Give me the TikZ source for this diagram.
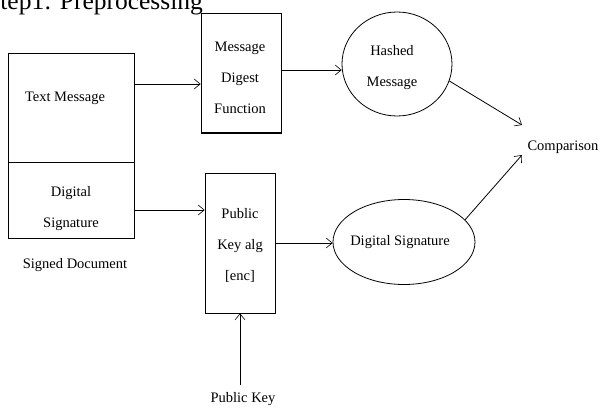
\documentclass[tikz,border=0pt]{standalone}
\usepackage{fontspec}
\setmainfont{Liberation Serif}
\usetikzlibrary{arrows.meta,shapes.geometric}
\begin{document}
\begin{tikzpicture}[x=1pt,y=-1pt,
  box/.style={draw,line width=0.8pt,inner sep=0pt},
  lbl/.style={font=\fontsize{14.5}{31}\selectfont,align=center,inner sep=1pt},
  conn/.style={line width=0.8pt,-{Straight Barb[length=6pt,width=10pt,line width=0.6pt]}}]
\useasboundingbox (0,0) rectangle (603,412);
\node[anchor=base west,font=\fontsize{25.5}{30}\selectfont,inner sep=0pt] (title) at (-14,10) {Step1: Preprocessing};
% signed document
\node[box,minimum width=126pt,minimum height=109pt] (tm) at (71,107.5) {};
\node[lbl] at (65,98) {Text Message};
\node[box,minimum width=126pt,minimum height=76pt] (ds) at (71,200) {};
\node[lbl] at (71,209) {Digital\\Signature};
\node[lbl] (sd) at (75,265) {Signed Document};
% message digest function
\node[box,minimum width=80pt,minimum height=120pt] (mdf) at (241,73) {};
\draw[line width=1.6pt] (201,132.5) -- (281,132.5);
\node[lbl] at (240,78) {Message\\Digest\\Function};
% public key alg
\node[box,minimum width=70pt,minimum height=140pt] (pk) at (240,243) {};
\node[lbl] at (240,245) {Public\\Key alg\\{[}enc{]}};
\node[lbl] (pubkey) at (243,399) {Public Key};
% ellipses
\node[draw,ellipse,line width=0.8pt,minimum width=110pt,minimum height=104pt] (hm) at (397,64) {};
\node[lbl] at (392,68) {Hashed\\Message};
\node[draw,ellipse,line width=0.8pt,minimum width=142pt,minimum height=85pt] (dsig) at (404,242) {};
\node[lbl] at (400,242) {Digital Signature};
\node[lbl] (cmp) at (563,147) {Comparison};
% connectors
\draw[conn] (tm.east |- 0,84) -- (mdf.west |- 0,84);
\draw[conn] (ds.east |- 0,210) -- (pk.west |- 0,210);
\draw[conn] (mdf.east |- 0,70) -- (hm.west |- 0,70);
\draw[conn] (pk.east |- 0,243) -- (dsig.west |- 0,243);
\draw[conn] (pubkey.north -| 240,0) ++(0,-6) -- (pk.south -| 240,0);
\draw[conn] (hm.-18) -- (522,125);
\draw[conn] (dsig.20) -- (522,155);
\end{tikzpicture}
\end{document}
